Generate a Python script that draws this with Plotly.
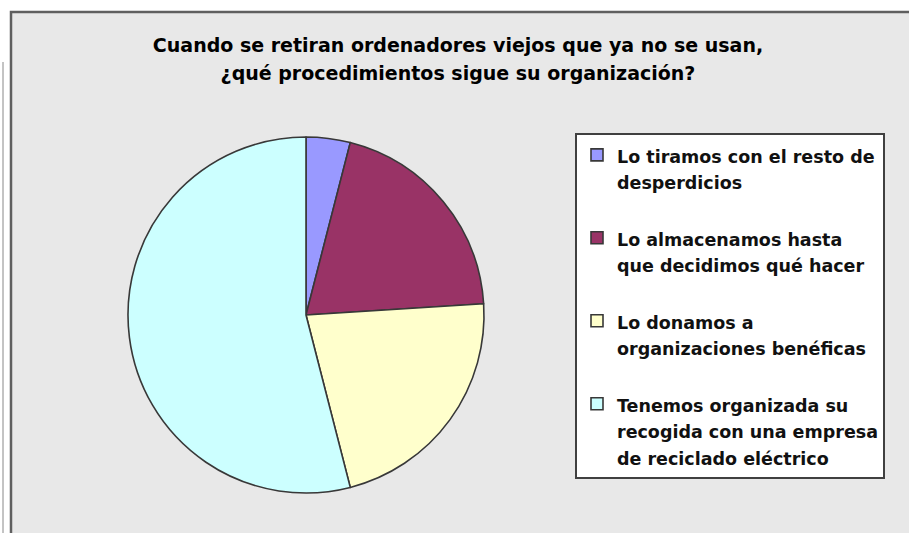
import plotly.graph_objects as go

W, H = 909, 533

title_lines = ["Cuando se retiran ordenadores viejos que ya no se usan,",
               "¿qué procedimientos sigue su organización?"]
categories = [
    ["Lo tiramos con el resto de", "desperdicios", " "],
    ["Lo almacenamos hasta", "que decidimos qué hacer", " "],
    ["Lo donamos a", "organizaciones benéficas", " "],
    ["Tenemos organizada su", "recogida con una empresa", "de reciclado eléctrico"],
]
values = [4, 20, 22, 54]
colors = ["#9999ff", "#993366", "#ffffcc", "#ccffff"]


def wrap(lines, size):
    return "<br>".join(f"<span style='font-size:{size}px'>{ln}</span>" for ln in lines)


def px(x):
    return x / W


def py(y):
    return 1 - y / H


labels = [wrap(c, 17.5) for c in categories]

fig = go.Figure()
fig.add_trace(go.Pie(
    labels=labels,
    values=values,
    sort=False,
    direction="clockwise",
    rotation=0,
    marker=dict(colors=colors, line=dict(color="#383838", width=1.6)),
    textinfo="none",
    domain=dict(x=[px(128), px(484)], y=[py(493), py(137)]),
))

fig.update_layout(
    width=W, height=H,
    margin=dict(l=0, r=0, t=0, b=0),
    paper_bgcolor="white",
    plot_bgcolor="#e8e8e8",
    font=dict(family="DejaVu Sans", color="#000000"),
    title=dict(
        text=wrap(title_lines, 19),
        font=dict(family="DejaVu Sans", size=21.5, color="#000000", weight="bold"),
        x=px(458), xanchor="center", xref="paper",
        y=py(52), yanchor="middle", yref="paper",
    ),
    legend=dict(
        x=px(575), xanchor="left",
        y=py(133), yanchor="top",
        bgcolor="white",
        bordercolor="#404040",
        borderwidth=2,
        font=dict(family="DejaVu Sans", size=20.5, color="#111111", weight="bold"),
        valign="top",
        traceorder="normal",
    ),
    shapes=[
        dict(type="rect", xref="paper", yref="paper",
             x0=px(11), x1=1.2, y0=-0.2, y1=py(12),
             fillcolor="#e8e8e8", line=dict(color="#5f5f5f", width=2.5), layer="below"),
        dict(type="line", xref="paper", yref="paper",
             x0=px(3), x1=px(3), y0=-0.2, y1=py(62),
             line=dict(color="#888888", width=1), layer="below"),
    ],
)

fig.write_html("out.html",
               config={"displayModeBar": False},
               post_script="document.body.style.margin='0';document.body.style.overflow='hidden';")
